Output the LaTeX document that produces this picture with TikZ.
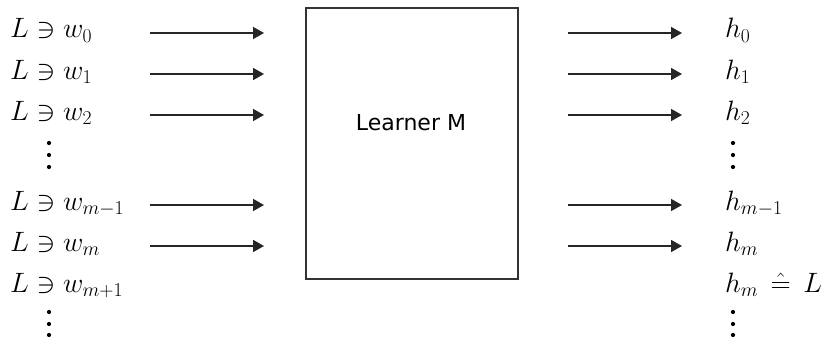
\RequirePackage{fix-cm}
\documentclass[tikz,border=0pt]{standalone}
\usepackage{fontspec}
\newfontfamily\dejavu{DejaVu Sans}
\usetikzlibrary{arrows.meta}
\begin{document}
\begin{tikzpicture}[x=1pt,y=-1pt,
  lbl/.style={anchor=base west, inner sep=0pt, font=\fontsize{28}{32}\selectfont},
  arr/.style={line width=1.6pt, draw=black!85, -{Triangle[length=11pt,width=12pt]}},
  dotc/.style={fill=black, draw=none, circle, minimum size=4.2pt, inner sep=0pt}]
\useasboundingbox (0,0) rectangle (822,337);
\node[draw=black!80, line width=1.6pt, minimum width=212pt, minimum height=271pt,
      anchor=north west, inner sep=0pt] (box) at (305,7) {};
\node[font=\dejavu\fontsize{22}{26}\selectfont, inner sep=0pt] (lm) at (411,123) {Learner M};
% left labels
\node[lbl] (w0) at (10,38) {$L \ni w_0$};
\node[lbl] (w1) at (10,79) {$L \ni w_1$};
\node[lbl] (w2) at (10,120) {$L \ni w_2$};
\node[lbl] (wm1) at (10,210) {$L \ni w_{m-1}$};
\node[lbl] (wm) at (10,251) {$L \ni w_m$};
\node[lbl] (wmp) at (10,292) {$L \ni w_{m+1}$};
% right labels
\node[lbl] (h0) at (725,38) {$h_0$};
\node[lbl] (h1) at (725,79) {$h_1$};
\node[lbl] (h2) at (725,120) {$h_2$};
\node[lbl] (hm1) at (725,210) {$h_{m-1}$};
\node[lbl] (hm) at (725,251) {$h_m$};
\node[lbl] (hmL) at (725,292) {$h_m\,\mathrel{\hat{=}}\,L$};
% dots
\foreach \y/\n in {143/a,155/b,167/c,312/d,324/e,335/f}{
  \node[dotc] (ld\n) at (49,\y) {};
  \node[dotc] (rd\n) at (733,\y) {};
}
% arrows
\foreach \y/\n in {33/0,74/1,115/2,205/3,246/4}{
  \coordinate (ls\n) at (150,\y);
  \coordinate (le\n) at (264,\y);
  \coordinate (rs\n) at (568,\y);
  \coordinate (re\n) at (682,\y);
  \draw[arr] (ls\n) -- (le\n);
  \draw[arr] (rs\n) -- (re\n);
}
\end{tikzpicture}
\end{document}
